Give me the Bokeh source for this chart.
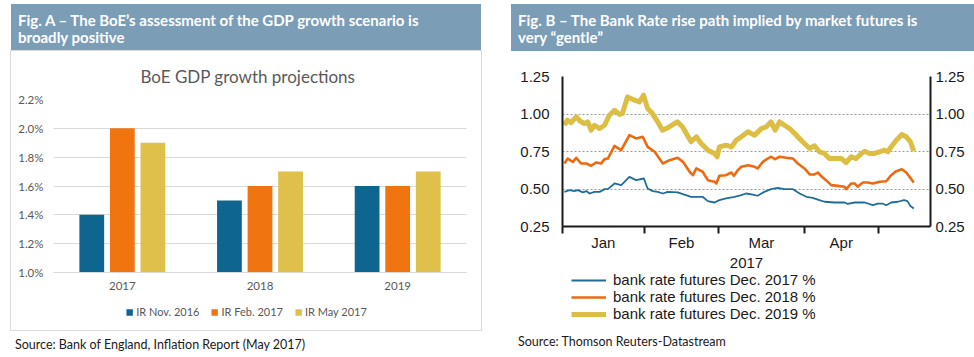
from bokeh.plotting import figure
from bokeh.models import (FactorRange, Range1d, FixedTicker, PrintfTickFormatter,
                          NumeralTickFormatter, Legend, LegendItem, LinearAxis, Div,
                          ColumnDataSource)
from bokeh.layouts import row, column
from bokeh.transform import dodge
from bokeh.embed import file_html
from bokeh.resources import INLINE

# ---------------- data: Fig. A ----------------
years = ["2017", "2018", "2019"]
ir_nov16 = [1.4, 1.5, 1.6]
ir_feb17 = [2.0, 1.6, 1.6]
ir_may17 = [1.9, 1.7, 1.7]
series_a = ["IR Nov. 2016", "IR Feb. 2017", "IR May 2017"]
gdp_ticks = [1.0, 1.2, 1.4, 1.6, 1.8, 2.0, 2.2]

# ---------------- data: Fig. B (x = trading-day index in 2017) ----------------
months = ["Jan", "Feb", "Mar", "Apr"]
month_starts = [0, 22, 42, 65, 85]
rate_ticks = [0.25, 0.50, 0.75, 1.00, 1.25]
series_b = ["bank rate futures Dec. 2017 %", "bank rate futures Dec. 2018 %",
            "bank rate futures Dec. 2019 %"]

dec17_x = [0.5, 1.9, 3.2, 4.1, 5.5, 6.4, 7.3, 8.6, 10.0, 11.3, 12.2, 14.0, 15.8, 18.0, 19.8,
           21.9, 22.9, 24.3, 25.6, 27.0, 28.3, 31.0, 32.8, 34.6, 37.7, 39.1, 40.9, 42.2, 44.0,
           46.3, 48.1, 49.4, 51.2, 52.5, 54.3, 56.1, 57.9, 59.7, 62.0, 63.8, 65.6, 67.3, 69.1,
           70.5, 73.2, 75.9, 76.7, 78.6, 81.3, 83.5, 84.8, 86.1, 87.1, 88.4, 90.2, 91.9, 92.8,
           93.6, 94.5]
dec17_y = [0.481, 0.492, 0.486, 0.492, 0.477, 0.486, 0.470, 0.481, 0.481, 0.499, 0.499, 0.537,
           0.526, 0.581, 0.559, 0.570, 0.503, 0.486, 0.481, 0.470, 0.481, 0.477, 0.463, 0.448,
           0.448, 0.419, 0.410, 0.426, 0.437, 0.448, 0.459, 0.470, 0.463, 0.455, 0.481, 0.499,
           0.508, 0.499, 0.499, 0.470, 0.448, 0.441, 0.426, 0.415, 0.410, 0.410, 0.401, 0.410,
           0.410, 0.392, 0.403, 0.403, 0.392, 0.410, 0.415, 0.426, 0.419, 0.386, 0.370]

dec18_x = [0.5, 1.4, 2.8, 3.7, 5.0, 6.4, 7.7, 9.1, 10.4, 11.3, 12.2, 14.0, 15.8, 18.0, 19.8,
           21.6, 22.9, 24.8, 27.0, 28.8, 31.0, 32.4, 34.2, 35.1, 36.0, 37.7, 39.1, 40.9, 41.4,
           42.2, 44.0, 45.4, 46.1, 47.2, 48.1, 49.9, 51.7, 52.5, 53.9, 55.2, 56.1, 57.2, 58.4,
           60.2, 62.0, 63.3, 65.1, 66.5, 67.8, 68.7, 69.8, 70.9, 72.3, 74.1, 75.9, 76.3, 77.7,
           78.6, 79.4, 80.8, 82.1, 83.5, 85.3, 87.1, 88.4, 89.8, 91.3, 92.5, 94.5]
dec18_y = [0.670, 0.703, 0.681, 0.708, 0.670, 0.670, 0.655, 0.677, 0.670, 0.699, 0.703, 0.788,
           0.759, 0.859, 0.837, 0.848, 0.781, 0.748, 0.670, 0.692, 0.708, 0.681, 0.615, 0.592,
           0.637, 0.615, 0.559, 0.548, 0.537, 0.588, 0.592, 0.610, 0.588, 0.626, 0.648, 0.659,
           0.648, 0.637, 0.681, 0.703, 0.715, 0.699, 0.715, 0.708, 0.703, 0.670, 0.637, 0.597,
           0.597, 0.610, 0.581, 0.559, 0.526, 0.521, 0.515, 0.499, 0.537, 0.537, 0.515, 0.543,
           0.543, 0.537, 0.548, 0.552, 0.592, 0.619, 0.632, 0.610, 0.543]

dec19_x = [0.5, 1.3, 2.3, 3.7, 4.8, 5.9, 6.8, 7.7, 8.6, 10.0, 11.3, 12.6, 14.0, 15.3, 16.1,
           17.5, 19.4, 20.7, 21.8, 22.9, 24.2, 25.6, 26.9, 28.7, 30.9, 32.3, 34.6, 36.0, 37.3,
           39.1, 40.9, 41.6, 42.2, 44.0, 45.5, 46.7, 48.1, 49.9, 51.7, 53.5, 54.8, 56.1, 57.2,
           58.4, 59.7, 61.1, 62.9, 64.6, 66.5, 67.8, 69.1, 70.5, 71.8, 73.2, 75.0, 76.3, 77.7,
           79.0, 80.4, 81.3, 82.6, 83.9, 85.3, 86.6, 87.5, 88.4, 89.8, 91.3, 92.5, 93.6, 94.5]
dec19_y = [0.925, 0.959, 0.943, 0.981, 0.952, 0.937, 0.948, 0.892, 0.925, 0.903, 0.925, 0.992,
           1.025, 0.997, 1.003, 1.114, 1.092, 1.081, 1.125, 1.037, 1.003, 0.948, 0.892, 0.914,
           0.948, 0.914, 0.815, 0.848, 0.803, 0.759, 0.737, 0.715, 0.781, 0.792, 0.781, 0.825,
           0.848, 0.881, 0.859, 0.903, 0.914, 0.948, 0.892, 0.948, 0.925, 0.903, 0.859, 0.815,
           0.770, 0.788, 0.748, 0.737, 0.703, 0.703, 0.703, 0.677, 0.715, 0.703, 0.737, 0.752,
           0.737, 0.737, 0.748, 0.759, 0.748, 0.781, 0.825, 0.863, 0.848, 0.815, 0.752]

# ---------------- styles ----------------
HDR_BG = "#7b9db6"
BLUE_A, ORANGE_A, GOLD_A = "#0e6590", "#f07410", "#dec04b"
BLUE_B, ORANGE_B, GOLD_B = "#1f6d98", "#ec6a12", "#dcbe44"
GREY_TXT = "#595959"
FONT_A = "Lato"
FONT_B = "Liberation Sans"


def header(text, width, left):
    style = (f"background:{HDR_BG};color:#ffffff;font-family:Lato,sans-serif;font-weight:bold;"
             f"font-size:15px;line-height:17px;box-sizing:border-box;width:{width}px;height:47px;"
             "padding:8px 6px 0 7px;white-space:nowrap;overflow:hidden;")
    return Div(text=f'<div style="{style}">{text}</div>', width=width, height=47,
               margin=(4, 0, 0, left))


def source(text, width, left, top):
    style = ("font-family:Lato,sans-serif;font-size:12.5px;line-height:16px;color:#1a1a1a;"
             "white-space:nowrap;")
    return Div(text=f'<div style="{style}">{text}</div>', width=width, height=18,
               margin=(top, 0, 0, left))


def legend_strip(width, height, x_range, y_range):
    f = figure(x_range=x_range, y_range=y_range, frame_width=width, frame_height=height,
               min_border=0, x_axis_type=None, y_axis_type=None,
               output_backend="svg", toolbar_location=None)
    f.grid.grid_line_color = None
    f.outline_line_color = None
    return f


# ---------------- Fig. A ----------------
srcA = ColumnDataSource(dict(year=years, nov=ir_nov16, feb=ir_feb17, may=ir_may17))
pA = figure(x_range=FactorRange(*years), y_range=Range1d(gdp_ticks[0], gdp_ticks[-1]),
            frame_width=413, frame_height=173, min_border_left=42, min_border_right=15,
            min_border_top=46, min_border_bottom=25,
            output_backend="svg", toolbar_location=None, title="BoE GDP growth projections")
pA.title.align = "left"
pA.title.offset = 87
pA.title.text_font = FONT_A
pA.title.text_font_size = "17px"
pA.title.text_font_style = "normal"
pA.title.text_color = GREY_TXT
pA.title.standoff = 25
pA.outline_line_color = None

bar_specs = (("nov", -0.222, BLUE_A), ("feb", 0.0, ORANGE_A), ("may", 0.222, GOLD_A))
for col, off, color in bar_specs:
    pA.vbar(x=dodge("year", off, range=pA.x_range), top=col, bottom=gdp_ticks[0],
            width=0.18, source=srcA, fill_color=color, line_color=None)

pA.yaxis.ticker = FixedTicker(ticks=gdp_ticks)
pA.yaxis.formatter = PrintfTickFormatter(format="%.1f%%")
pA.yaxis.axis_line_color = None
pA.yaxis.major_tick_line_color = None
pA.yaxis.major_tick_out = 0
pA.yaxis.minor_tick_line_color = None
pA.yaxis.major_label_standoff = 10
pA.xaxis.axis_line_color = "#d9d9d9"
pA.xaxis.major_tick_line_color = None
pA.xaxis.major_tick_out = 0
pA.xaxis.major_label_standoff = 9
for ax in (pA.xaxis, pA.yaxis):
    ax.major_label_text_font = FONT_A
    ax.major_label_text_font_size = "11.5px"
    ax.major_label_text_color = GREY_TXT
pA.xgrid.grid_line_color = None
pA.ygrid.grid_line_color = "#d9d9d9"
pA.ygrid.ticker = FixedTicker(ticks=gdp_ticks)

# legend strip for Fig. A (same bar styles, legend only)
lA = legend_strip(470, 33, pA.x_range, pA.y_range)
rA = []
for col, off, color in bar_specs:
    rA.append(lA.vbar(x=dodge("year", off, range=pA.x_range), top=col, bottom=gdp_ticks[0],
                      width=0.18, source=srcA, fill_color=color, line_color=None,
                      visible=False))
legA = Legend(items=[LegendItem(label=n, renderers=[r]) for n, r in zip(series_a, rA)],
              orientation="horizontal", location="top_center", glyph_width=8, glyph_height=8,
              label_height=12, label_standoff=3, spacing=11, padding=0, margin=8,
              label_text_font=FONT_A, label_text_font_size="11px", label_text_color=GREY_TXT,
              border_line_alpha=0, background_fill_alpha=0)
lA.add_layout(legA)

# ---------------- Fig. B ----------------
pB = figure(x_range=Range1d(0, 99), y_range=Range1d(rate_ticks[0], rate_ticks[-1]),
            frame_width=368, frame_height=150, min_border_left=51, min_border_right=48,
            min_border_top=25, min_border_bottom=42,
            output_backend="svg", toolbar_location=None)
pB.outline_line_color = None
pB.add_layout(LinearAxis(), "right")

line_specs = ((dec17_x, dec17_y, BLUE_B, 1.8), (dec18_x, dec18_y, ORANGE_B, 2.6),
              (dec19_x, dec19_y, GOLD_B, 5.0))
for xs, ys, color, lw in line_specs:
    pB.line(xs, ys, line_color=color, line_width=lw, line_join="round")

for ax in pB.yaxis:
    ax.ticker = FixedTicker(ticks=rate_ticks)
    ax.formatter = NumeralTickFormatter(format="0.00")
    ax.major_tick_line_color = None
    ax.major_tick_out = 0
    ax.minor_tick_line_color = None
    ax.axis_line_color = "#1a1a1a"
    ax.axis_line_width = 2
    ax.major_label_text_font = FONT_B
    ax.major_label_text_font_size = "15px"
    ax.major_label_text_color = "#1a1a1a"
pB.yaxis[0].major_label_standoff = 13
pB.yaxis[1].major_label_standoff = 5

mids = [(a + b) / 2 for a, b in zip(month_starts[:-1], month_starts[1:])]
xa = pB.xaxis[0]
xa.ticker = FixedTicker(ticks=mids, minor_ticks=month_starts)
xa.major_label_overrides = {m: n for m, n in zip(mids, months)}
xa.major_tick_out = 0
xa.major_tick_in = 0
xa.minor_tick_out = 7
xa.minor_tick_in = 0
xa.minor_tick_line_color = "#1a1a1a"
xa.minor_tick_line_width = 2
xa.axis_line_color = "#1a1a1a"
xa.axis_line_width = 2
xa.major_label_standoff = 0
xa.major_label_text_font = FONT_B
xa.major_label_text_font_size = "15px"
xa.major_label_text_color = "#1a1a1a"
xa.axis_label = "2017"
xa.axis_label_standoff = 4
xa.axis_label_text_font = FONT_B
xa.axis_label_text_font_size = "15px"
xa.axis_label_text_font_style = "normal"
xa.axis_label_text_color = "#1a1a1a"

pB.xgrid.grid_line_color = None
pB.ygrid.ticker = FixedTicker(ticks=rate_ticks)
pB.ygrid.grid_line_color = "#9a9a9a"
pB.ygrid.grid_line_dash = "2 2"

# legend strip for Fig. B (same line styles, legend only)
lB = legend_strip(467, 56, pB.x_range, pB.y_range)
rB = []
for xs, ys, color, lw in line_specs:
    rB.append(lB.line(xs, ys, line_color=color, line_width=lw, visible=False))
legB = Legend(items=[LegendItem(label=n, renderers=[r]) for n, r in zip(series_b, rB)],
              orientation="vertical", location=(60, 4), glyph_width=35, glyph_height=14,
              label_height=14, label_standoff=7, spacing=0, padding=0, margin=0,
              label_text_font=FONT_B, label_text_font_size="15px", label_text_color="#1a1a1a",
              border_line_alpha=0, background_fill_alpha=0)
lB.add_layout(legB)

# ---------------- page ----------------
hA = header("Fig. A – The BoE’s assessment of the GDP growth scenario is<br>broadly positive", 470, 11)
hB = header("Fig. B – The Bank Rate rise path implied by market futures is<br>very “gentle”", 467, 26)
boxA = column(pA, lA, margin=(0, 0, 0, 11), styles={"box-shadow": "0 0 0 1px #dadada"})
pB.margin = (0, 0, 0, 26)
lB.margin = (0, 0, 0, 26)
sA = source("Source: Bank of England, Inflation Report (May 2017)", 470, 15, 7)
sB = source("Source: Thomson Reuters-Datastream", 467, 33, 8)

layout = row(column(hA, boxA, sA), column(hB, pB, lB, sB))
open("out.html", "w").write(file_html(layout, INLINE))
